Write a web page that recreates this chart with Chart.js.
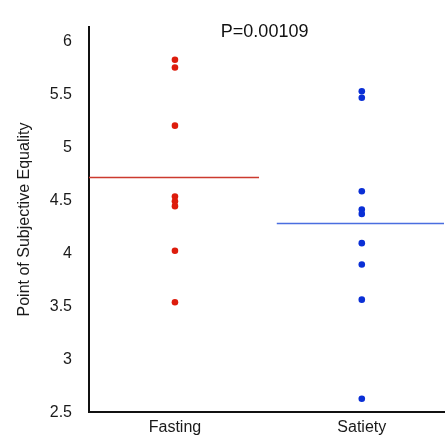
<!DOCTYPE html>
<html>
<head>
<meta charset="utf-8">
<script src="https://cdn.jsdelivr.net/npm/chart.js@4"></script>
<style>
html,body{margin:0;padding:0;background:#fff;}
#wrap{width:448px;height:439px;}
</style>
</head>
<body>
<div id="wrap"><canvas id="c" width="448" height="439"></canvas></div>
<script>
const categories = ['Fasting', 'Satiety'];
const fastingValues = [5.825, 5.752, 5.204, 4.535, 4.49, 4.445, 4.025, 3.538];
const satietyValues = [5.529, 5.467, 4.585, 4.414, 4.372, 4.096, 3.894, 3.563, 2.629];
const fastingMean = 4.714;
const satietyMean = 4.282;
const yTicks = [2.5, 3, 3.5, 4, 4.5, 5, 5.5, 6];
const pLabel = 'P=0.00109';

const FONT = "'Liberation Sans', Arial, sans-serif";
Chart.defaults.font.family = FONT;
Chart.defaults.color = '#1a1a1a';

const pts = (vals, xi) => vals.map(v => ({x: xi + 1, y: v}));

const titlePlugin = {
  id: 'ptitle',
  afterDatasetsDraw(chart) {
    const {ctx, scales} = chart;
    ctx.save();
    ctx.font = "18px " + FONT;
    ctx.fillStyle = '#111';
    ctx.textAlign = 'center';
    ctx.textBaseline = 'middle';
    ctx.fillText(pLabel, scales.x.getPixelForValue(1.48), scales.y.getPixelForValue(6.09));
    ctx.restore();
  }
};

new Chart(document.getElementById('c'), {
  type: 'scatter',
  data: {
    datasets: [
      {data: pts(fastingValues, 0), backgroundColor: '#dd1c0c', borderColor: '#dd1c0c', pointRadius: 3.3, pointBorderWidth: 0},
      {data: pts(satietyValues, 1), backgroundColor: '#0a2fd6', borderColor: '#0a2fd6', pointRadius: 3.3, pointBorderWidth: 0},
      {type: 'line', data: [{x: 0.5, y: fastingMean}, {x: 1.45, y: fastingMean}], borderColor: '#cc3a2e', borderWidth: 1.5, pointRadius: 0, fill: false},
      {type: 'line', data: [{x: 1.545, y: satietyMean}, {x: 2.5, y: satietyMean}], borderColor: '#4a6ee0', borderWidth: 1.5, pointRadius: 0, fill: false}
    ]
  },
  options: {
    responsive: false,
    animation: false,
    layout: {padding: {top: 17, right: 0, bottom: 0, left: 0}},
    plugins: {legend: {display: false}, tooltip: {enabled: false}},
    scales: {
      x: {
        type: 'linear',
        min: 0.54,
        max: 2.44,
        grid: {display: false, drawTicks: false},
        border: {display: true, color: '#111', width: 2},
        afterBuildTicks(s) { s.ticks = categories.map((c, i) => ({value: i + 1})); },
        afterFit(s) { s.height = 26; },
        ticks: {
          padding: 6,
          font: {size: 16},
          color: '#1a1a1a',
          callback: (v) => categories[Math.round(v) - 1] || ''
        }
      },
      y: {
        min: 2.5,
        max: 6.138,
        grid: {display: false, drawTicks: false},
        border: {display: true, color: '#111', width: 2},
        afterBuildTicks(s) { s.ticks = yTicks.map(v => ({value: v})); },
        afterFit(s) { s.width = 89; },
        ticks: {
          padding: 17,
          font: {size: 16},
          color: '#1a1a1a',
          callback: (v) => String(v)
        },
        title: {
          display: true,
          text: 'Point of Subjective Equality',
          font: {size: 16},
          color: '#1a1a1a',
          padding: {top: 15, bottom: 0}
        }
      }
    }
  },
  plugins: [titlePlugin]
});
</script>
</body>
</html>
